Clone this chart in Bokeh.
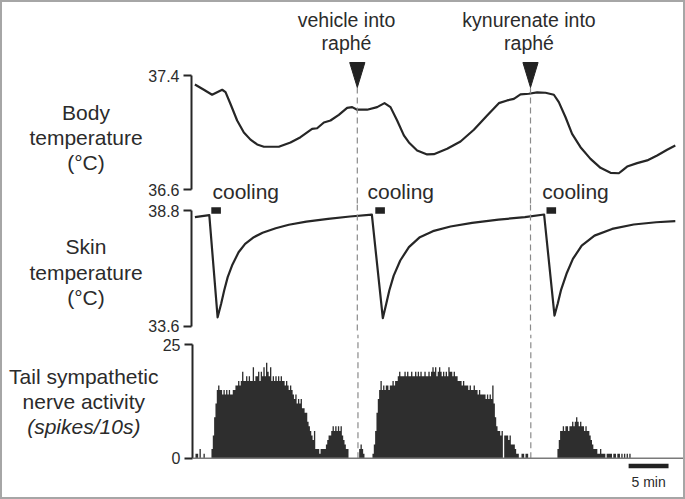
from bokeh.plotting import figure
from bokeh.layouts import column, row
from bokeh.models import Range1d, FixedTicker, Label, Span
from bokeh.embed import file_html
from bokeh.resources import INLINE

# ---------------- data ----------------
# Body temperature (deg C) vs time (min)
BODY_T = [0.05, 1.17, 2.2, 2.83, 3.46, 3.88, 4.5, 5.33, 6.17, 7.0, 7.83, 8.67, 10.54, 12.0,
          13.25, 14.7, 15.33, 16.17, 17.0, 18.04, 19.08, 19.71, 20.33, 21.58, 22.83, 23.75,
          24.5, 25.33, 26.17, 26.8, 27.83, 29.08, 29.92, 31.58, 33.25, 34.92, 36.58, 38.04,
          39.08, 39.92, 40.75, 41.79, 42.83, 43.88, 44.92, 45.54, 46.38, 47.2, 48.25, 49.5,
          50.75, 52.0, 53.04, 53.46, 54.08, 55.33, 56.58, 57.83, 59.08, 60.1]
BODY_C = [37.337, 37.30, 37.265, 37.283, 37.30, 37.283, 37.20, 37.084, 37.00, 36.95, 36.916,
          36.90, 36.90, 36.93, 36.967, 37.026, 37.03, 37.07, 37.084, 37.124, 37.173, 37.178,
          37.16, 37.16, 37.178, 37.206, 37.178, 37.084, 36.98, 36.93, 36.874, 36.846, 36.848,
          36.886, 36.937, 37.019, 37.12, 37.206, 37.225, 37.236, 37.267, 37.272, 37.281,
          37.279, 37.265, 37.213, 37.107, 36.99, 36.897, 36.815, 36.752, 36.717, 36.714,
          36.733, 36.761, 36.785, 36.804, 36.839, 36.879, 36.909]

# Skin temperature (deg C) vs time (min)
SKIN_T = [0.05, 1.85, 2.89, 3.33, 3.71, 4.15, 4.69, 5.51, 6.33, 7.42, 8.51, 10.15, 11.79, 13.98,
          16.7, 19.44, 22.17, 23.54, 23.97, 24.35, 24.9, 25.72, 26.8, 28.17, 29.8, 32.0, 34.7,
          38.0, 41.3, 43.7, 45.0, 45.4, 45.8, 46.5, 47.3, 48.4, 50.0, 52.2, 54.9, 57.7, 60.1]
SKIN_C = [38.50, 38.59, 33.99, 34.60, 35.20, 35.80, 36.32, 36.92, 37.30, 37.60, 37.80, 38.00,
          38.16, 38.30, 38.42, 38.53, 38.61, 33.95, 34.60, 35.20, 35.87, 36.55, 37.15, 37.60,
          37.87, 38.08, 38.24, 38.39, 38.50, 38.62, 34.07, 34.60, 35.20, 35.95, 36.62, 37.22,
          37.67, 37.97, 38.17, 38.27, 38.32]

# Tail sympathetic nerve activity: spikes per 10-s bin (6 bins per minute)
BIN_MIN = 10.0 / 60.0
NERVE_SPIKES = [
    1, 1, 0, 2, 0, 0,        # 0
    1, 0, 0, 0, 0, 0,        # 1
    2, 5, 9, 12, 15, 16,     # 2
    15, 15, 14, 15, 14, 15,  # 3
    14, 15, 14, 14, 15, 15,  # 4
    16, 16, 17, 16, 17, 19,  # 5
    17, 17, 18, 17, 18, 17,  # 6
    17, 20, 17, 18, 18, 19,  # 7
    17, 19, 18, 20, 18, 21,  # 8
    19, 18, 20, 17, 18, 17,  # 9
    18, 17, 18, 17, 18, 17,  # 10
    17, 16, 17, 16, 15, 16,  # 11
    15, 14, 13, 14, 12, 13,  # 12
    12, 13, 11, 11, 10, 10,  # 13
    8, 7, 6, 5, 4, 6,        # 14
    2, 2, 2, 1, 2, 2,        # 15
    2, 2, 3, 4, 5, 5,        # 16
    6, 7, 6, 7, 6, 7,        # 17
    6, 7, 5, 4, 3, 2,        # 18
    2, 0, 0, 0, 0, 0,        # 19
    0, 0, 0, 2, 3, 2,        # 20
    1, 0, 0, 0, 0, 0,        # 21
    0, 1, 3, 6, 10, 13,      # 22
    15, 17, 15, 16, 15, 16,  # 23
    16, 15, 16, 16, 17, 16,  # 24
    17, 17, 18, 19, 18, 18,  # 25
    18, 19, 18, 19, 18, 18,  # 26
    19, 18, 18, 19, 18, 19,  # 27
    18, 19, 18, 18, 19, 18,  # 28
    18, 19, 18, 19, 20, 19,  # 29
    20, 18, 19, 20, 19, 18,  # 30
    19, 18, 19, 18, 20, 19,  # 31
    19, 18, 19, 18, 18, 17,  # 32
    17, 17, 16, 17, 16, 16,  # 33
    16, 15, 16, 15, 15, 16,  # 34
    15, 15, 14, 15, 14, 14,  # 35
    14, 14, 13, 14, 13, 14,  # 36
    13, 16, 12, 9, 7, 6,     # 37
    6, 5, 6, 0, 5, 5,        # 38
    5, 4, 5, 3, 3, 3,        # 39
    2, 1, 1, 0, 0, 1,        # 40
    1, 0, 1, 1, 0, 0,        # 41
    0, 0, 0, 0, 0, 0,        # 42
    0, 0, 0, 0, 0, 0,        # 43
    0, 0, 0, 0, 0, 0,        # 44
    0, 0, 2, 4, 6, 6,        # 45
    7, 6, 7, 7, 6, 7,        # 46
    7, 8, 7, 8, 9, 8,        # 47
    7, 8, 7, 7, 6, 7,        # 48
    6, 6, 5, 4, 3, 2,        # 49
    2, 2, 1, 1, 2, 1,        # 50
    1, 1, 0, 1, 1, 1,        # 51
    1, 0, 1, 1, 0, 1,        # 52
    1, 0, 1, 0, 1, 0,        # 53
    1, 0, 1, 0, 0, 0,        # 54
    0, 0, 0, 0, 0, 0,        # 55
    0, 0, 0, 0, 0, 0,        # 56
    0, 0, 0, 0, 0, 0,        # 57
    0, 0, 0, 0, 0, 0,        # 58
    0, 0, 0, 0, 0, 0,        # 59
]

INJ_T = [20.35, 42.0]
INJ_TEXT = [["vehicle into", "raphé"], ["kynurenate into", "raphé"]]
COOL_T = [2.1, 22.6, 44.0]
COOL_DUR = 1.2
COOL_TEXT = "cooling"
BODY_TICKS = [36.6, 37.4]
SKIN_TICKS = [33.6, 38.8]
NERVE_TICKS = [0, 25]
SCALE_MIN = 5
SCALE_TEXT = "5 min"
BODY_LABEL = ["Body", "temperature", "(°C)"]
SKIN_LABEL = ["Skin", "temperature", "(°C)"]
NERVE_LABEL = ["Tail sympathetic", "nerve activity", "(spikes/10s)"]

# ---------------- layout helpers (page pixels) ----------------
FONT = "Liberation Sans"
TXT = "#2b2b2b"
INK = "#262626"
PX_PER_MIN = 8.0
X0_PX = 194.0      # page x of t = 0
AXIS_PX = 191      # page x of the y-axis lines
ORIGIN = 2         # width of the outer grey frame
PAGE_W, PAGE_H = 685, 499
INNER_R = PAGE_W - ORIGIN
INNER_B = PAGE_H - ORIGIN
BASE_FIX = 0.36    # label anchor correction (fraction of font size)


def px_to_t(px):
    return (px - X0_PX) / PX_PER_MIN


def lin(a_px, a_v, b_px, b_v):
    return lambda px: a_v + (px - a_px) * (b_v - a_v) / (b_px - a_px)


body_y = lin(75, 37.4, 189, 36.6)
skin_y = lin(210, 38.8, 325.5, 33.6)
nerve_y = lin(344, 25, 457.7, 0)

xr = Range1d(px_to_t(AXIS_PX), px_to_t(INNER_R))


def base_fig(width, height, x_range, y_range, left):
    p = figure(width=width, height=height, x_range=x_range, y_range=y_range,
               output_backend="svg", toolbar_location=None, x_axis_location=None,
               y_axis_location="left" if left else None,
               min_border_left=left, min_border_right=0, min_border_top=0,
               min_border_bottom=0, background_fill_color="white",
               border_fill_color="white", outline_line_color=None)
    p.grid.visible = False
    return p


def make_panel(top_px, bot_px, ymap, ticks, label_right):
    p = base_fig(INNER_R - label_right, int(round(bot_px - top_px)), xr,
                 Range1d(ymap(bot_px), ymap(top_px)), AXIS_PX - label_right)
    ax = p.yaxis[0]
    ax.ticker = FixedTicker(ticks=ticks)
    ax.bounds = (min(ticks), max(ticks))
    ax.major_label_overrides = {t: f"{t:g}" for t in ticks}
    ax.axis_line_color = INK
    ax.axis_line_width = 2
    ax.major_tick_line_color = INK
    ax.major_tick_line_width = 1.8
    ax.major_tick_out = 8
    ax.major_tick_in = 0
    ax.minor_tick_line_color = None
    ax.major_label_text_font = FONT
    ax.major_label_text_font_size = "16px"
    ax.major_label_text_color = TXT
    ax.major_label_standoff = 4
    return p


def add_label(p, x, ymap, base_px, text, size, align="center", style="normal"):
    y = ymap(base_px - BASE_FIX * size)
    p.add_layout(Label(x=x, y=y, text=text, text_align=align, text_baseline="alphabetic",
                       text_font=FONT, text_font_size=f"{size}px", text_font_style=style,
                       text_color=TXT))


def label_fig(panel, label_right, lines, baselines, ymap, center_px, styles):
    lf = base_fig(label_right - ORIGIN, panel.height,
                  Range1d(ORIGIN, label_right), panel.y_range, 0)
    for txt, base, st in zip(lines, baselines, styles):
        add_label(lf, center_px, ymap, base, txt, 21, style=st)
    return lf


DASH = dict(line_color="#8a8a8a", line_width=1.2, line_dash="6 4")

# ---------- panel 1: body temperature ----------
L1 = 145
p1 = make_panel(ORIGIN, 204, body_y, BODY_TICKS, L1)
p1.line(BODY_T, BODY_C, line_width=2.2, line_color=INK, line_join="round")
tri_top, tri_tip = body_y(62), body_y(87)
p1.segment(x0=INJ_T, y0=[tri_tip] * len(INJ_T), x1=INJ_T,
           y1=[p1.y_range.start] * len(INJ_T), **DASH)
p1.patches(xs=[[t - 0.95, t + 0.95, t] for t in INJ_T],
           ys=[[tri_top, tri_top, tri_tip] for _ in INJ_T],
           fill_color="#222222", line_color="#222222")
for cx, lines in zip([346, 528.5], INJ_TEXT):
    for txt, base in zip(lines, [26.7, 50]):
        add_label(p1, px_to_t(cx), body_y, base, txt, 19.5)
for lx in [212, 367, 541.7]:
    add_label(p1, px_to_t(lx), body_y, 199, COOL_TEXT, 21, align="left")
lf1 = label_fig(p1, L1, BODY_LABEL, [120, 145, 169.5], body_y, 85.5, ["normal"] * 3)

# ---------- panel 2: skin temperature ----------
L2 = 145
p2 = make_panel(204, 334, skin_y, SKIN_TICKS, L2)
for t in INJ_T:
    p2.add_layout(Span(location=t, dimension="height", **DASH))
p2.line(SKIN_T, SKIN_C, line_width=2.2, line_color=INK, line_join="round")
p2.quad(left=COOL_T, right=[c + COOL_DUR for c in COOL_T],
        bottom=[skin_y(213.3)] * len(COOL_T), top=[skin_y(206.7)] * len(COOL_T),
        fill_color="#222222", line_color=None)
lf2 = label_fig(p2, L2, SKIN_LABEL, [253.5, 279.5, 305], skin_y, 85.5, ["normal"] * 3)

# ---------- panel 3: nerve activity ----------
L3 = 159
p3 = make_panel(334, INNER_B, nerve_y, NERVE_TICKS, L3)
p3.segment(x0=INJ_T, y0=[0] * len(INJ_T), x1=INJ_T,
           y1=[p3.y_range.end] * len(INJ_T), **DASH)
edges = [i * BIN_MIN for i in range(len(NERVE_SPIKES) + 1)]
p3.varea_step(x=edges, y1=[0] * len(edges), y2=NERVE_SPIKES + NERVE_SPIKES[-1:],
              step_mode="after", fill_color="#2e2e2e")
p3.add_layout(Span(location=0, dimension="width", line_color="#7a7a7a", line_width=1.5))
sb_x = px_to_t(628)
p3.line([sb_x, sb_x + SCALE_MIN], [nerve_y(465.5)] * 2, line_width=4.4,
        line_color="#222222", line_cap="butt")
add_label(p3, sb_x + SCALE_MIN / 2, nerve_y, 486.7, SCALE_TEXT, 14)
lf3 = label_fig(p3, L3, NERVE_LABEL, [383.3, 408.3, 433.3], nerve_y, 83.3,
                ["normal", "normal", "italic"])

layout = column(row(lf1, p1), row(lf2, p2), row(lf3, p3), spacing=0,
                styles={"border": f"{ORIGIN}px solid #a6a6a6"})

with open("out.html", "w") as f:
    f.write(file_html(layout, INLINE, title="Thermoregulation recording"))
